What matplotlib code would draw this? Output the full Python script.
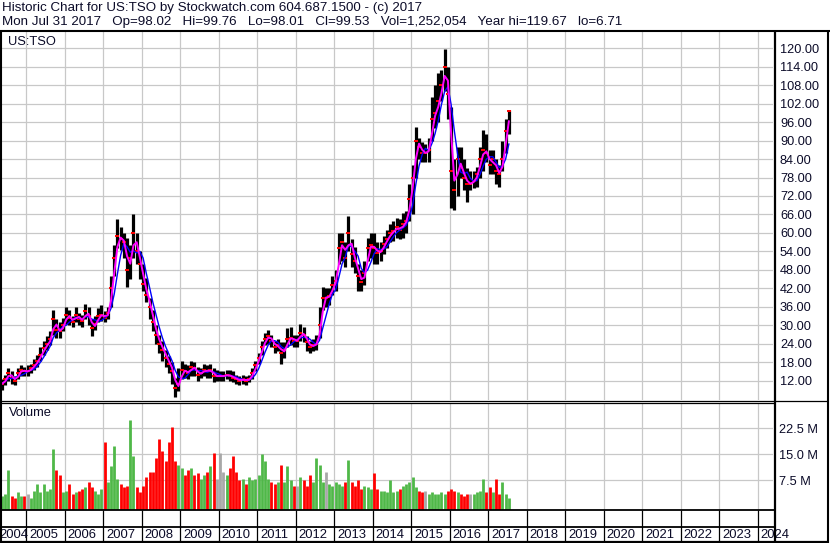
import numpy as np
import pandas as pd
import matplotlib
matplotlib.use("Agg")
import matplotlib.pyplot as plt

plt.rcParams["font.family"] = ["Liberation Sans", "DejaVu Sans"]

# ---- data: monthly bars May 2004 .. Jul 2017 ----
first_month, last_month = "2004-05", "2017-07"

close = [11.0, 12.5, 14.5, 13.0, 12.0, 14.5, 15.5, 15.0,
         15.0, 16.0, 17.0, 18.5, 20.5, 22.5, 24.0, 25.5, 32.0, 28.5, 28.0, 30.0,
         33.5, 32.5, 31.0, 33.5, 32.0, 31.5, 34.5, 33.0, 29.0, 30.5, 33.0, 33.5,
         32.5, 34.0, 42.0, 52.0, 59.0, 58.0, 57.0, 48.0, 52.0, 60.0, 54.0, 50.0,
         43.5, 40.0, 36.0, 31.0, 27.0, 24.0, 22.0, 19.5, 17.5, 15.0, 9.5, 11.0,
         15.5, 15.0, 14.5, 16.5, 16.0, 14.0, 14.5, 15.5, 15.0, 15.5, 13.5, 13.5,
         13.5, 13.5, 14.0, 13.5, 13.0, 12.5, 12.0, 12.5, 12.0, 12.5, 14.5, 17.0,
         19.5, 23.0, 25.5, 26.5, 25.0, 23.0, 23.5, 21.0, 22.0, 25.5, 26.0, 25.0,
         25.0, 27.5, 27.0, 24.5, 23.0, 23.5, 24.0, 30.0, 39.0, 39.0, 39.5, 43.0,
         44.5, 55.0, 57.0, 52.0, 60.0, 53.0, 51.0, 46.0, 44.0, 47.0, 55.0, 56.0,
         55.0, 53.5, 54.0, 56.5, 58.0, 60.0, 60.5, 62.0, 61.0, 63.0, 64.0, 71.0,
         78.0, 90.0, 88.0, 86.0, 86.0, 87.0, 97.0, 99.0, 103.0, 108.0, 114.0, 105.0,
         80.0, 74.0, 84.0, 81.0, 78.0, 76.0, 76.0, 77.0, 79.0, 84.0, 87.0, 86.0,
         82.0, 84.0, 80.0, 79.0, 84.0, 93.0, 99.5]

high = [12.5, 14.0, 16.0, 15.0, 13.5, 16.0, 17.0, 16.5,
        17.0, 17.5, 19.0, 20.5, 23.0, 25.0, 26.5, 28.0, 35.0, 32.0, 31.0, 32.5,
        36.0, 35.0, 33.0, 36.0, 34.0, 33.5, 37.0, 36.0, 32.0, 33.0, 35.5, 36.5,
        34.5, 36.0, 46.0, 56.0, 64.5, 62.0, 60.0, 58.5, 56.0, 66.0, 60.0, 54.0,
        50.0, 45.5, 39.0, 35.0, 30.0, 27.0, 25.0, 22.0, 20.0, 18.0, 13.0, 16.0,
        18.5, 17.5, 17.0, 18.5, 18.0, 16.5, 16.0, 17.5, 17.0, 17.5, 16.0, 15.5,
        15.0, 15.0, 15.5, 15.5, 15.0, 14.0, 13.5, 14.0, 13.5, 14.0, 16.0, 18.5,
        21.0, 25.0, 27.5, 28.5, 27.0, 25.0, 25.5, 24.5, 24.5, 29.0, 29.5, 27.0,
        27.0, 30.5, 29.5, 26.5, 25.0, 25.5, 27.0, 36.0, 42.5, 42.0, 42.0, 46.0,
        48.0, 60.0, 60.0, 57.0, 65.5, 58.0, 55.5, 50.0, 48.0, 51.0, 58.5, 60.0,
        60.0, 57.0, 57.0, 59.0, 61.0, 63.0, 64.0, 65.0, 64.5, 66.5, 67.0, 76.0,
        82.0, 94.5, 91.0, 89.5, 89.0, 91.0, 104.0, 108.0, 112.0, 113.0, 119.7, 114.0,
        101.0, 84.0, 88.0, 88.0, 84.0, 81.0, 80.0, 80.0, 81.5, 88.0, 93.5, 92.0,
        87.0, 87.0, 84.0, 82.0, 90.0, 97.0, 100.0]

low = [9.0, 10.5, 12.0, 11.0, 10.5, 12.5, 13.5, 13.5,
       13.5, 14.5, 15.5, 16.5, 18.5, 20.5, 22.0, 23.5, 27.0, 26.0, 26.0, 28.0,
       30.5, 30.0, 29.5, 31.0, 30.0, 29.5, 32.0, 30.0, 26.5, 28.5, 31.0, 31.5,
       31.0, 32.0, 36.0, 46.0, 55.0, 54.5, 52.0, 42.5, 45.0, 52.0, 50.0, 45.0,
       41.0, 37.5, 32.0, 28.0, 24.0, 21.0, 18.5, 16.5, 14.5, 11.0, 6.7, 8.5,
       12.5, 13.0, 12.5, 13.5, 13.5, 12.0, 13.0, 13.5, 13.0, 13.0, 11.5, 12.0,
       12.0, 12.0, 12.5, 12.0, 11.5, 11.0, 10.5, 11.0, 10.5, 11.5, 12.5, 15.0,
       17.5, 20.5, 23.5, 24.0, 23.0, 21.0, 21.5, 17.5, 19.5, 23.0, 23.5, 23.0,
       23.0, 25.0, 24.5, 21.5, 21.0, 21.5, 22.0, 26.0, 35.0, 36.0, 36.5, 40.0,
       41.0, 50.0, 51.0, 49.0, 54.0, 49.0, 47.0, 41.0, 41.0, 43.0, 51.0, 52.0,
       50.0, 50.0, 51.0, 53.0, 55.0, 57.0, 57.5, 58.5, 58.0, 58.5, 60.0, 64.0,
       66.0, 78.0, 84.0, 83.0, 83.0, 83.0, 90.0, 94.0, 96.0, 103.0, 106.0, 97.0,
       68.0, 67.5, 72.0, 78.0, 74.0, 70.0, 74.0, 74.5, 75.0, 78.0, 80.0, 83.0,
       79.0, 79.0, 76.0, 75.0, 80.0, 86.0, 92.0]

# volume in millions
volume = [3.0, 3.5, 10.5, 3.0, 2.5, 4.0, 3.0, 3.0,
          3.5, 2.5, 4.5, 6.5, 4.0, 6.5, 4.5, 5.0, 16.5, 10.5, 9.0, 4.0,
          4.5, 6.4, 3.5, 4.0, 4.5, 5.0, 5.5, 7.0, 5.5, 4.5, 3.5, 5.0,
          18.5, 7.0, 11.5, 17.5, 8.0, 6.5, 5.5, 6.0, 25.0, 14.5, 5.5, 4.0,
          6.0, 8.5, 10.0, 10.0, 14.0, 19.5, 16.0, 13.0, 18.5, 23.0, 13.0, 12.0,
          11.0, 9.0, 10.5, 11.0, 9.0, 9.5, 8.0, 9.0, 10.0, 11.5, 15.5, 8.0,
          15.5, 10.0, 9.0, 11.0, 14.5, 10.0, 7.5, 8.0, 6.5, 8.5, 7.5, 8.0,
          9.0, 15.0, 13.0, 8.0, 7.0, 6.5, 7.0, 12.0, 7.0, 11.5, 7.5, 6.0,
          6.0, 8.5, 7.5, 6.0, 9.0, 7.0, 14.0, 12.0, 7.0, 10.0, 6.5, 6.0,
          7.0, 6.5, 6.0, 7.0, 13.5, 7.0, 6.0, 7.5, 5.0, 6.0, 5.5, 5.0,
          9.5, 5.0, 4.5, 4.5, 4.0, 7.5, 4.0, 4.5, 5.0, 6.0, 6.5, 7.0,
          8.5, 5.5, 4.5, 4.0, 4.5, 3.5, 4.0, 3.5, 3.5, 4.0, 3.5, 4.5,
          5.0, 4.5, 4.0, 3.5, 3.0, 3.5, 3.5, 3.5, 4.0, 4.5, 8.0, 4.0,
          5.5, 4.0, 8.0, 3.5, 7.0, 3.5, 2.5]

price_ticks = [12, 18, 24, 30, 36, 42, 48, 54, 60, 66, 72, 78, 84, 90,
               96, 102, 108, 114, 120]
vol_ticks = [7.5, 15.0, 22.5]
vol_labels = ["7.5 M", "15.0 M", "22.5 M"]
years = list(range(2004, 2025))

header1 = "Historic Chart for US:TSO by Stockwatch.com 604.687.1500 - (c) 2017"
header2_fields = ["Mon Jul 31 2017", "Op=98.02", "Hi=99.76", "Lo=98.01",
                  "Cl=99.53", "Vol=1,252,054", "Year hi=119.67", "lo=6.71"]

# ---- layout (pixels) ----
W, H = 830, 543
PX0, PX1 = 2, 773          # plot area left/right
PPY = 38.5                 # pixels per year
X2005 = 26                 # pixel of 1 Jan 2005
txt_col = "#0b0b28"
grid_col = "#c8c8c8"
green = "#4fb848"


def fbox(x0, y0, x1, y1):
    return [x0 / W, 1 - y1 / H, (x1 - x0) / W, (y1 - y0) / H]


def px2year(px):
    return 2005 + (px - X2005) / PPY


months = pd.period_range(first_month, last_month, freq="M")
t = months.year + (months.month - 0.5) / 12
close_s = pd.Series(close)
ma_fast = close_s.rolling(2, min_periods=1).mean()
ma_slow = close_s.rolling(4, min_periods=1).mean()
chg = close_s.diff().fillna(1.0)
vcolors = ["red" if c < 0 else (green if c > 0 else "#a8a8a8") for c in chg]

fig = plt.figure(figsize=(W / 100, H / 100), dpi=100)
xlim = (px2year(PX0), px2year(PX1))

# price panel
ax_p = fig.add_axes(fbox(PX0, 31, PX1, 400))
ax_p.set_xlim(*xlim)
ax_p.set_ylim(5.73, 125.6)
for y in years[1:]:
    ax_p.axvline(y, color=grid_col, lw=0.9, zorder=0)
ax_p.set_yticks(price_ticks)
ax_p.set_yticklabels([f"{v:.2f}" for v in price_ticks])
ax_p.yaxis.tick_right()
ax_p.tick_params(axis="y", length=0, pad=5, labelsize=9.2, labelcolor=txt_col)
ax_p.grid(axis="y", color=grid_col, lw=0.9, zorder=0)
ax_p.set_xticks([])
for s in ax_p.spines.values():
    s.set_visible(False)
ax_p.vlines(t, low, high, color="black", lw=2.3, zorder=2)
ax_p.plot(t, close, ls="none", marker="_", ms=3.5, mew=1.4, color="red", zorder=3)
ax_p.plot(t, ma_slow, color="#0000ff", lw=1.0, zorder=4)
ax_p.plot(t, ma_fast, color="#ff00ff", lw=1.4, zorder=5)
ax_p.text(6 / (PX1 - PX0), 1 - 11 / 369, "US:TSO", transform=ax_p.transAxes,
          fontsize=9.3, color=txt_col, va="center", ha="left")

# volume panel
ax_v = fig.add_axes(fbox(PX0, 403, PX1, 510))
ax_v.set_xlim(*xlim)
v_floor = -1.06
ax_v.set_ylim(v_floor, 29.8)
for y in years[1:]:
    ax_v.axvline(y, color=grid_col, lw=0.9, zorder=0)
ax_v.set_yticks(vol_ticks)
ax_v.set_yticklabels(vol_labels)
ax_v.yaxis.tick_right()
ax_v.tick_params(axis="y", length=0, pad=4, labelsize=9.2, labelcolor=txt_col)
ax_v.grid(axis="y", color=grid_col, lw=0.9, zorder=0)
ax_v.set_xticks([])
for s in ax_v.spines.values():
    s.set_visible(False)
ax_v.vlines(t, v_floor, volume, colors=vcolors, lw=2.0, zorder=2)
ax_v.text(7 / (PX1 - PX0), 1 - 10 / 107, "Volume", transform=ax_v.transAxes,
          fontsize=9.3, color=txt_col, va="center", ha="left")

# x-axis rows
ax_x = fig.add_axes(fbox(PX0, 510, PX1, 541))
ax_x.set_xlim(*xlim)
ax_x.set_ylim(541, 510)
ax_x.axis("off")
ax_x.vlines(years, 510, 541, color="black", lw=0.9)
for y in years:
    xl = max(y + 3.0 / PPY, xlim[0] - 3 / PPY)
    ax_x.text(xl, 534.5, str(y), fontsize=9.4, color=txt_col,
              ha="left", va="center", clip_on=False)

# frame lines (pixel overlay)
ov = fig.add_axes([0, 0, 1, 1], zorder=10)
ov.set_xlim(0, W)
ov.set_ylim(H, 0)
ov.axis("off")
ov.patch.set_visible(False)
kw = dict(color="black", solid_capstyle="butt")
ov.plot([0, W], [31, 31], lw=1.5, **kw)
ov.plot([1, 1], [31, H], lw=1.5, **kw)
ov.plot([774.5, 774.5], [31, H], lw=1.6, **kw)
ov.plot([828, 828], [31, H], lw=1.5, **kw)
ov.plot([0, 828], [542, 542], lw=1.6, **kw)
ov.plot([0, 828], [400.5, 400.5], lw=0.9, **kw)
ov.plot([0, 774], [402.7, 402.7], lw=0.9, **kw)
ov.plot([0, 774], [510, 510], lw=1.3, **kw)
ov.plot([0, 774], [526.8, 526.8], lw=1.3, **kw)

fig.text(2 / W, 1 - 8.5 / H, header1, fontsize=9.6, color=txt_col,
         ha="left", va="center")
fig.text(2 / W, 1 - 21.5 / H, "   ".join(header2_fields), fontsize=9.6,
         color=txt_col, ha="left", va="center")

fig.savefig("out.png", dpi=100)
